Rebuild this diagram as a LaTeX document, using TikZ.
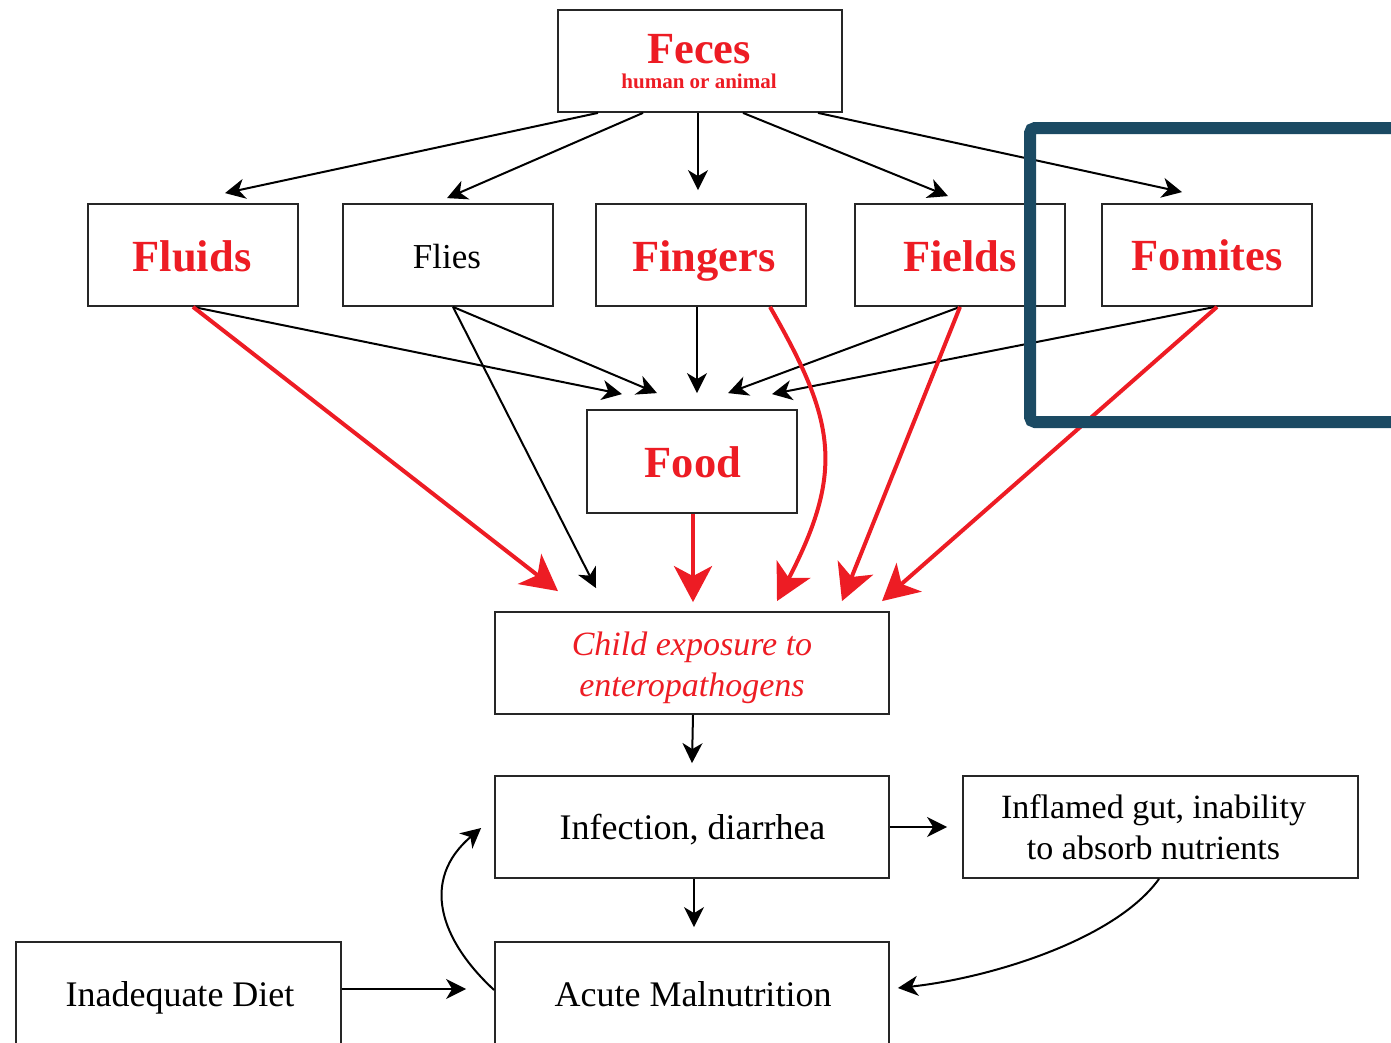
\documentclass[tikz,border=0pt]{standalone}
\usepackage{fontspec}
\setmainfont{Liberation Serif}
\usetikzlibrary{arrows.meta,calc}
\definecolor{fred}{HTML}{ED1C24}
\definecolor{framecol}{HTML}{1B4A63}

\begin{document}
\begin{tikzpicture}[x=1pt,y=-1pt,
  box/.style={draw=black!85, line width=1.8pt, minimum height=102pt, inner sep=0pt},
  smallbox/.style={box, minimum width=210pt},
  widebox/.style={box, minimum width=394pt},
  word/.style={anchor=base, inner sep=0pt},
  bigred/.style={word, text=fred, font=\fontsize{44.5}{50}\selectfont\bfseries},
  plain/.style={word, font=\fontsize{36}{40}\selectfont},
  flow/.style={draw=black, line width=2pt, -{Stealth[length=20pt,width=20pt,inset=6pt]}},
  redflow/.style={draw=fred, line width=4pt, -{Stealth[length=36pt,width=38pt,inset=10pt]}},
]
\useasboundingbox (0,0) rectangle (1391,1042);
\clip (0,0) rectangle (1391,1042);

% boxes
\node[box, minimum width=284pt] (feces) at (700,61) {};
\node[smallbox] (fluids)  at (193,255) {};
\node[smallbox] (flies)   at (448,255) {};
\node[smallbox] (fingers) at (701,255) {};
\node[smallbox] (fields)  at (960,255) {};
\node[smallbox] (fomites) at (1207,255) {};
\node[smallbox, minimum height=103pt] (food) at (692,461.5) {};
\node[widebox] (child)     at (692,663) {};
\node[widebox] (infection) at (692,827) {};
\node[box, minimum width=395pt] (inflamed) at (1160.5,827) {};
\node[box, minimum width=325pt] (diet)     at (178.5,993) {};
\node[widebox] (acute)     at (692,993) {};

% texts
\node[bigred] (fecesT) at (699,63) {Feces};
\node[word, text=fred, font=\fontsize{21}{24}\selectfont\bfseries] (fecesS) at (699,88) {human or animal};
\node[bigred] (fluidsT)  at (192,271) {Fluids};
\node[plain, font=\fontsize{35}{40}\selectfont] (fliesT) at (447,268) {Flies};
\node[bigred] (fingersT) at (704,271) {Fingers};
\node[bigred] (fieldsT)  at (960,271) {Fields};
\node[bigred] (fomitesT) at (1207,270) {Fomites};
\node[bigred] (foodT)    at (693,477.5) {Food};
\node[word, text=fred, font=\fontsize{34}{40}\selectfont\itshape] (childA) at (692,655) {Child exposure to};
\node[word, text=fred, font=\fontsize{34}{40}\selectfont\itshape] (childB) at (692,696) {enteropathogens};
\node[plain] (infectionT) at (692.5,839) {Infection, diarrhea};
\node[plain, font=\fontsize{34}{40}\selectfont] (inflamedA) at (1153.5,818) {Inflamed gut, inability};
\node[plain, font=\fontsize{34}{40}\selectfont] (inflamedB) at (1153.5,859) {to absorb nutrients};
\node[plain] (dietT)  at (180,1006) {Inadequate Diet};
\node[plain] (acuteT) at (693,1006) {Acute Malnutrition};

% feces to the five routes
\draw[flow] ([xshift=-102pt]feces.south) -- ([xshift=32pt,yshift=10pt]fluids.north);
\draw[flow] ([xshift=-57pt]feces.south)  -- ([xshift=-1pt,yshift=5pt]flies.north);
\draw[flow] ([xshift=-2pt]feces.south)   -- ([xshift=-3pt,yshift=13pt]fingers.north);
\draw[flow] ([xshift=43pt]feces.south)   -- ([xshift=-12pt,yshift=7pt]fields.north);
\draw[flow] ([xshift=118pt]feces.south)  -- ([xshift=-25pt,yshift=11pt]fomites.north);

% routes into food
\draw[flow] (fluids.south) -- ([xshift=-70pt,yshift=15pt]food.north);
\draw[flow] ([xshift=5pt]flies.south) -- ([xshift=-35pt,yshift=16pt]food.north);
\draw[flow] ([xshift=-4pt]fingers.south) -- ([xshift=5pt,yshift=16pt]food.north);
\draw[flow] (fields.south) -- ([xshift=36pt,yshift=16pt]food.north);
\draw[flow] ([xshift=8pt]fomites.south) -- ([xshift=80pt,yshift=15pt]food.north);
\draw[flow] ([xshift=5pt]flies.south) -- ([xshift=-96pt,yshift=23pt]child.north);

% direct routes to the child
\draw[redflow] (fluids.south) -- ([xshift=-134pt,yshift=20pt]child.north);
\draw[redflow] ([xshift=1pt]food.south) -- ([xshift=1pt,yshift=9pt]child.north);
\draw[redflow] ([xshift=69pt]fingers.south) .. controls (835,420) and (845,470) .. ([xshift=85pt,yshift=10pt]child.north);
\draw[redflow] (fields.south) -- ([xshift=150pt,yshift=10pt]child.north);
\draw[redflow] ([xshift=10pt]fomites.south) -- ([xshift=190pt,yshift=10pt]child.north);

% consequences
\draw[flow] ([xshift=1pt]child.south) -- ([xshift=0pt,yshift=12pt]infection.north);
\draw[flow] ([xshift=2pt]infection.south) -- ([xshift=2pt,yshift=14pt]acute.north);
\draw[flow] (infection.east) -- ([xshift=-15pt]inflamed.west);
\draw[flow] ([yshift=4pt]diet.east) -- ([xshift=-28pt,yshift=4pt]acute.west);
\draw[flow] ([yshift=3pt]acute.west) .. controls (440,940) and (420,880) .. ([xshift=-13pt,yshift=-1pt]infection.west);
\draw[flow] ([xshift=-1.5pt]inflamed.south) .. controls (1115,940) and (990,978) .. ([xshift=8pt,yshift=5pt]acute.east);

% highlight frame
\draw[framecol, line width=12pt, rounded corners=5pt] (1410,128) -- (1030,128) -- (1030,422) -- (1410,422);
\end{tikzpicture}
\end{document}
